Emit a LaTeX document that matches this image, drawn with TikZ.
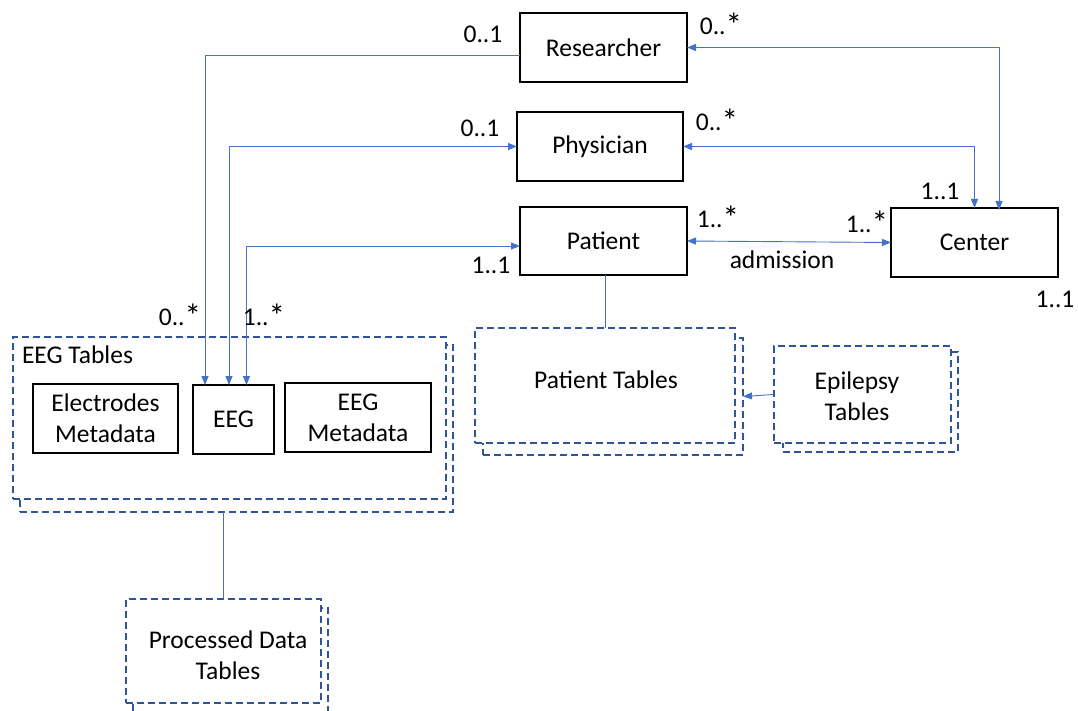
\documentclass[tikz,border=0pt]{standalone}
\usepackage{fontspec}
\usepackage{graphicx}
\setmainfont{Carlito}
\usetikzlibrary{arrows.meta,calc}
\definecolor{conncol}{HTML}{4472C4}
\definecolor{dashcol}{HTML}{2F5597}
\newcommand\mystar{\raisebox{-0.08em}{\scalebox{1.3}{*}}}
\begin{document}
\begin{tikzpicture}[x=1pt,y=-1pt,
  every node/.style={font=\fontsize{25.5}{31}\selectfont, inner sep=0pt, outer sep=0pt},
  entity/.style={draw=black, line width=1.3pt, fill=white, align=center},
  tabbox/.style={draw=dashcol, line width=1.3pt, dash pattern=on 7pt off 4pt, fill=white},
  conn/.style={draw=conncol, line width=0.9pt},
  >={Triangle[length=9pt,width=7pt]},
  lbl/.style={text=black}
]
\path[use as bounding box, clip] (0,0) rectangle (1078,711);
\fill[white] (0,0) rectangle (1078,711);

% entity boxes
\node[entity, minimum width=167, minimum height=69] (res) at (603.5,47.5) {Researcher};
\node[entity, minimum width=166, minimum height=69] (phy) at (600,146.5) {Physician};
\node[entity, minimum width=167, minimum height=68] (pat) at (603.5,241) {Patient};
\node[entity, minimum width=167, minimum height=69] (cen) at (974.5,242.5) {Center};

% EEG tables stack
\node[tabbox, minimum width=433, minimum height=167] (eegback) at (236.5,428.5) {};
\node[tabbox, minimum width=433, minimum height=162] (eegtab) at (229.5,418) {};
\node[lbl, anchor=west] (eegtitle) at (22,355) {EEG Tables};
\node[entity, minimum width=145, minimum height=69] (elec) at (105.5,418.5) {Electrodes\\Metadata};
\node[entity, minimum width=81, minimum height=69] (eeg) at (233.5,419.5) {EEG};
\node[entity, minimum width=146, minimum height=69] (eegmeta) at (358,417.5) {EEG\\Metadata};

% Patient tables stack
\node[tabbox, minimum width=260, minimum height=117] (ptback) at (613,396.5) {};
\node[tabbox, minimum width=260, minimum height=115] (pttab) at (605,385.5) {};
\node[lbl] (pttxt) at (606,380) {Patient Tables};

% Epilepsy tables stack
\node[tabbox, minimum width=175, minimum height=100] (epback) at (870.5,402) {};
\node[tabbox, minimum width=177, minimum height=97] (eptab) at (862.5,394.5) {};
\node[lbl, align=center] (eptxt) at (857,396) {Epilepsy\\Tables};

% Processed data tables stack
\node[tabbox, minimum width=195, minimum height=108] (prback) at (230.5,662) {};
\node[tabbox, minimum width=195, minimum height=104] (prtab) at (223.5,651) {};
\node[lbl, align=center] (prtxt) at (228,655) {Processed Data\\Tables};

% connectors
\draw[conn,->] ($(res.west)+(0,7.5)$) -| ([xshift=-28.5]eeg.north);
\draw[conn,<->] ([xshift=-4.5]eeg.north) |- (phy.west);
\draw[conn,<->] ([xshift=13]eeg.north) |- ($(pat.west)+(0,5)$);
\draw[conn,<->] (res.east) -| ([xshift=24.5,yshift=-2]cen.north);
\draw[conn,<->] (phy.east) -| (cen.north);
\draw[conn,<->] (pat.east) -- (cen.west);
\draw[conn] ([xshift=1.5]pat.south) -- ([xshift=0]pttab.north);
\draw[conn,->] (eptab.west) -- (ptback.east);
\draw[conn] (prtab.north) -- (prtab.north |- eegback.south);

% multiplicity labels
\node[lbl] (l1) at (483,34) {0..1};
\node[lbl] (l2) at (480,128) {0..1};
\node[lbl] (l3) at (721,25) {0..\mystar};
\node[lbl] (l4) at (717,121) {0..\mystar};
\node[lbl] (l5) at (940,191) {1..1};
\node[lbl] (l6) at (718,218) {1..\mystar};
\node[lbl] (l7) at (867,223) {1..\mystar};
\node[lbl] (l8) at (782,260) {admission};
\node[lbl] (l9) at (1055,299) {1..1};
\node[lbl] (l10) at (491,265) {1..1};
\node[lbl] (l11) at (180,316) {0..\mystar};
\node[lbl] (l12) at (264,316) {1..\mystar};
\end{tikzpicture}
\end{document}
